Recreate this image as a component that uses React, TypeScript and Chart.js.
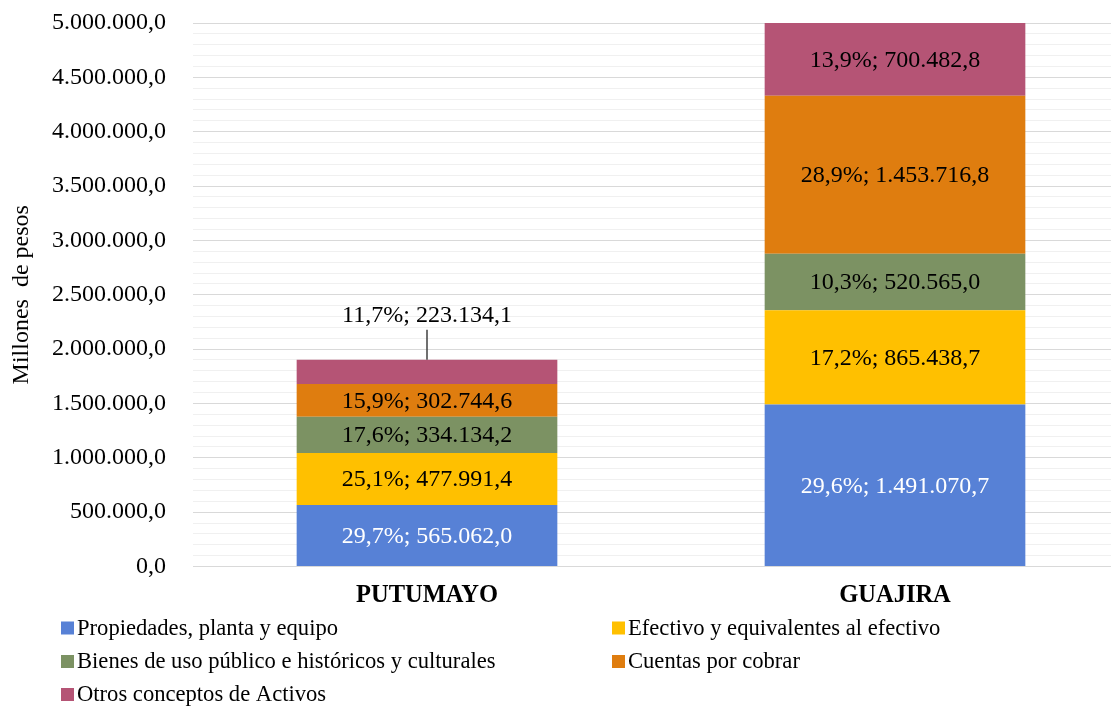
import React, { useEffect, useRef } from 'react';
import { Chart, registerables } from 'chart.js';

Chart.register(...registerables);

const FONT = "'Liberation Serif', 'Times New Roman', serif";

const categories = ['PUTUMAYO', 'GUAJIRA'];

const seriesNames = [
  'Propiedades, planta y equipo',
  'Efectivo y equivalentes al efectivo',
  'Bienes de uso público e históricos y culturales',
  'Cuentas por cobrar',
  'Otros conceptos de Activos',
];

const propiedades = [565062.0, 1491070.7];
const efectivo = [477991.4, 865438.7];
const bienes = [334134.2, 520565.0];
const cuentas = [302744.6, 1453716.8];
const otros = [223134.1, 700482.8];

const pctPropiedades = [29.7, 29.6];
const pctEfectivo = [25.1, 17.2];
const pctBienes = [17.6, 10.3];
const pctCuentas = [15.9, 28.9];
const pctOtros = [11.7, 13.9];

const seriesColors = ['#5781D6', '#FFC000', '#7C9263', '#DF7D0F', '#B55475'];
const labelColors = ['#FFFFFF', '#000000', '#000000', '#000000', '#000000'];

const yMin = 0;
const yMax = 5000000;
const yMinorStep = 100000;
const yMajorStep = 500000;
const yTitle = 'Millones  de pesos';

function fmt(v: number): string {
  const [i, d] = v.toFixed(1).split('.');
  return i.replace(/\B(?=(\d{3})+(?!\d))/g, '.') + ',' + d;
}
function fmtPct(p: number): string {
  return p.toFixed(1).replace('.', ',') + '%';
}

const allValues = [propiedades, efectivo, bienes, cuentas, otros];
const allPcts = [pctPropiedades, pctEfectivo, pctBienes, pctCuentas, pctOtros];

const dataLabelPlugin = {
  id: 'dataLabels',
  afterDatasetsDraw(chart: any) {
    const ctx = chart.ctx;
    const area = chart.chartArea;
    ctx.save();
    ctx.font = `24px ${FONT}`;
    ctx.textAlign = 'center';
    ctx.textBaseline = 'middle';
    const n = chart.data.datasets.length;
    for (let i = 0; i < n; i++) {
      const meta = chart.getDatasetMeta(i);
      meta.data.forEach((el: any, j: number) => {
        const { x, y, base } = el.getProps(['x', 'y', 'base'], true);
        const top = Math.max(Math.min(y, base), area.top);
        const bot = Math.min(Math.max(y, base), area.bottom);
        const text = fmtPct(allPcts[i][j]) + '; ' + fmt(allValues[i][j]);
        if (bot - top < 28 && i === n - 1) {
          ctx.strokeStyle = '#404040';
          ctx.lineWidth = 1.5;
          ctx.beginPath();
          ctx.moveTo(x, top - 30);
          ctx.lineTo(x, top);
          ctx.stroke();
          ctx.fillStyle = '#000000';
          ctx.fillText(text, x, top - 44);
        } else {
          ctx.fillStyle = labelColors[i];
          ctx.fillText(text, x, (top + bot) / 2 + 1);
        }
      });
    }
    ctx.restore();
  },
};

const legendPlugin = {
  id: 'customLegend',
  afterDraw(chart: any) {
    const ctx = chart.ctx;
    ctx.save();
    ctx.font = `22.6px ${FONT}`;
    ctx.textAlign = 'left';
    ctx.textBaseline = 'middle';
    const colX = [61, 612];
    const rowY = [628, 661.5, 694.5];
    seriesNames.forEach((name, k) => {
      const cx = colX[k % 2];
      const cy = rowY[Math.floor(k / 2)];
      ctx.fillStyle = seriesColors[k];
      ctx.fillRect(cx, cy - 6.5, 13, 13);
      ctx.fillStyle = '#000000';
      ctx.fillText(name, cx + 16, cy + 1);
    });
    ctx.restore();
  },
};

export default function App() {
  const ref = useRef<HTMLCanvasElement | null>(null);
  useEffect(() => {
    if (!ref.current) return;
    const chart = new Chart(ref.current, {
      type: 'bar',
      data: {
        labels: categories,
        datasets: seriesNames.map((name, i) => ({
          label: name,
          data: allValues[i],
          backgroundColor: seriesColors[i],
          borderWidth: 0,
          barPercentage: 0.557,
          categoryPercentage: 1,
        })),
      },
      options: {
        responsive: false,
        animation: false,
        layout: { padding: { top: 23, right: 11, left: 0, bottom: 0 } },
        plugins: {
          legend: { display: false },
          tooltip: { enabled: false },
        },
        scales: {
          x: {
            stacked: true,
            grid: { display: false, drawTicks: false },
            border: { display: false },
            ticks: {
              color: '#000000',
              font: { family: FONT, size: 24.5, weight: 'bold' },
              padding: 14,
            },
            afterFit: (scale: any) => {
              scale.height = 139.5;
              scale.paddingLeft = 0;
              scale.paddingRight = 0;
            },
          },
          y: {
            stacked: true,
            min: yMin,
            max: yMax,
            grid: {
              drawTicks: false,
              color: (c: any) =>
                c.tick && c.tick.value % yMajorStep === 0 ? '#D9D9D9' : '#F0F0F0',
              lineWidth: 1,
            },
            border: { display: false },
            ticks: {
              stepSize: yMinorStep,
              autoSkip: false,
              color: '#000000',
              font: { family: FONT, size: 24 },
              padding: 27,
              callback: (v: any) => (Number(v) % yMajorStep === 0 ? fmt(Number(v)) : ''),
            },
            title: {
              display: true,
              text: yTitle,
              color: '#000000',
              font: { family: FONT, size: 24 },
              padding: { top: 7, bottom: 0 },
            },
            afterFit: (scale: any) => {
              scale.width = 193;
              scale.paddingTop = 0;
              scale.paddingBottom = 0;
            },
          },
        },
      },
      plugins: [dataLabelPlugin, legendPlugin],
    } as any);
    return () => chart.destroy();
  }, []);

  return (
    <div
      style={{
        position: 'fixed',
        left: 0,
        top: 0,
        width: 1111,
        height: 706,
        overflow: 'hidden',
        background: '#ffffff',
      }}
    >
      <canvas ref={ref} width={1140} height={706} style={{ display: 'block' }} />
    </div>
  );
}
